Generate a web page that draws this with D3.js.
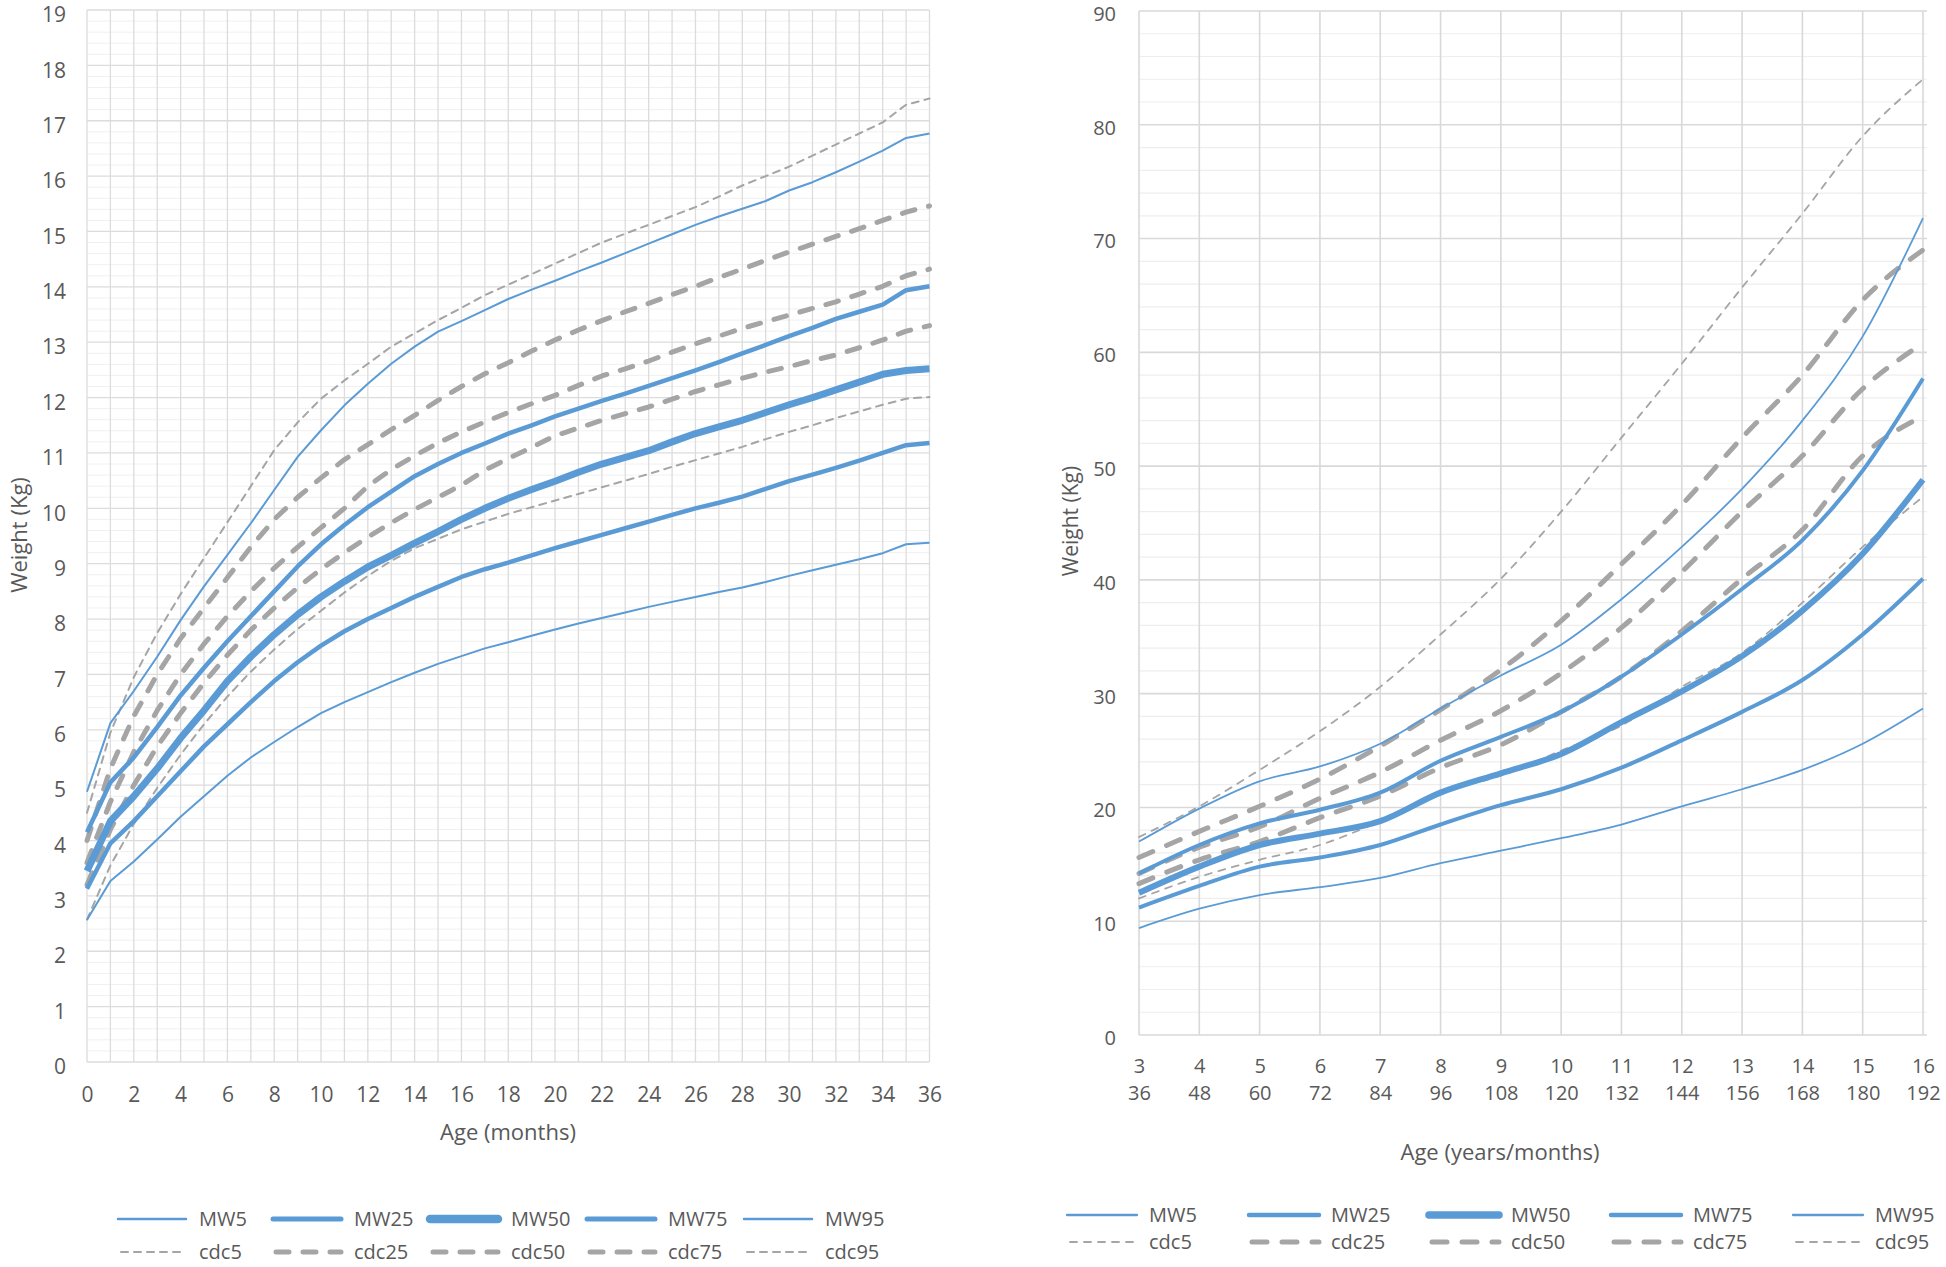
<!DOCTYPE html>
<html><head><meta charset="utf-8">
<script src="https://cdn.jsdelivr.net/npm/d3@7"></script>
<style>
body{margin:0;background:#fff;}
text{font-family:"Open Sans","Noto Sans",sans-serif;fill:#595959;}
</style>
</head><body>
<svg id="c" width="1946" height="1267"></svg>
<script>
// ---------- Left chart: 0-36 months ----------
const monthsL = [0,1,2,3,4,5,6,7,8,9,10,11,12,13,14,15,16,17,18,19,20,21,22,23,24,25,26,27,28,29,30,31,32,33,34,35,36];
const MW5_L  = [2.57,3.27,3.62,4.02,4.43,4.8,5.17,5.5,5.78,6.05,6.3,6.5,6.68,6.86,7.03,7.19,7.33,7.47,7.58,7.7,7.81,7.92,8.02,8.12,8.22,8.31,8.4,8.49,8.57,8.67,8.78,8.88,8.98,9.08,9.19,9.35,9.38];
const MW25_L = [3.13,3.95,4.35,4.8,5.25,5.7,6.1,6.5,6.88,7.22,7.52,7.78,8.0,8.2,8.4,8.58,8.76,8.9,9.02,9.15,9.28,9.4,9.52,9.64,9.76,9.88,10.0,10.1,10.21,10.35,10.49,10.61,10.73,10.86,11.0,11.14,11.18];
const MW50_L = [3.45,4.35,4.8,5.3,5.85,6.35,6.88,7.32,7.72,8.08,8.4,8.68,8.94,9.15,9.37,9.58,9.8,10.0,10.18,10.34,10.49,10.65,10.8,10.92,11.04,11.2,11.35,11.47,11.59,11.73,11.87,12.0,12.14,12.28,12.42,12.49,12.52];
const MW75_L = [4.15,5.05,5.5,6.05,6.62,7.12,7.6,8.05,8.5,8.95,9.35,9.7,10.02,10.3,10.58,10.8,11.0,11.17,11.35,11.5,11.66,11.8,11.94,12.07,12.21,12.35,12.49,12.64,12.8,12.95,13.11,13.26,13.42,13.55,13.68,13.94,14.01];
const MW95_L = [4.88,6.12,6.7,7.32,7.98,8.59,9.16,9.73,10.33,10.93,11.41,11.86,12.25,12.61,12.92,13.19,13.38,13.58,13.78,13.95,14.11,14.28,14.44,14.61,14.78,14.95,15.12,15.27,15.41,15.55,15.74,15.89,16.07,16.26,16.46,16.69,16.77];
const cdc5_L  = [2.57,3.55,4.3,4.95,5.55,6.1,6.6,7.05,7.45,7.82,8.15,8.48,8.78,9.05,9.28,9.45,9.62,9.76,9.9,10.02,10.14,10.26,10.38,10.5,10.62,10.75,10.87,10.99,11.11,11.25,11.38,11.5,11.63,11.75,11.87,11.98,12.01];
const cdc25_L = [3.2,4.2,5.0,5.7,6.3,6.85,7.35,7.8,8.2,8.57,8.9,9.2,9.48,9.74,9.98,10.2,10.42,10.69,10.9,11.1,11.31,11.45,11.59,11.71,11.83,11.97,12.11,12.23,12.35,12.46,12.56,12.67,12.77,12.9,13.04,13.2,13.3];
const cdc50_L = [3.6,4.7,5.6,6.35,7.0,7.55,8.05,8.5,8.92,9.3,9.65,10.0,10.4,10.7,10.95,11.18,11.38,11.56,11.73,11.89,12.04,12.22,12.39,12.52,12.66,12.82,12.97,13.11,13.25,13.37,13.49,13.61,13.73,13.87,14.01,14.2,14.32];
const cdc75_L = [4.0,5.3,6.25,7.0,7.65,8.2,8.75,9.3,9.8,10.2,10.55,10.88,11.15,11.42,11.68,11.95,12.2,12.43,12.63,12.84,13.04,13.22,13.39,13.55,13.7,13.86,14.01,14.17,14.32,14.48,14.63,14.77,14.91,15.05,15.2,15.35,15.46];
const cdc95_L = [4.5,5.95,6.95,7.75,8.45,9.1,9.75,10.4,11.05,11.55,11.98,12.31,12.61,12.92,13.16,13.4,13.62,13.85,14.04,14.23,14.42,14.61,14.8,14.96,15.12,15.28,15.44,15.63,15.83,16.0,16.17,16.37,16.57,16.77,16.97,17.29,17.4];
const yTicksL = [0,1,2,3,4,5,6,7,8,9,10,11,12,13,14,15,16,17,18,19];
const xTicksL = [0,2,4,6,8,10,12,14,16,18,20,22,24,26,28,30,32,34,36];

// ---------- Right chart: 3-16 years ----------
const yearsR  = [3,4,5,6,7,8,9,10,11,12,13,14,15,16];
const monthsR = [36,48,60,72,84,96,108,120,132,144,156,168,180,192];
const MW5_R  = [9.4,11.1,12.3,13.0,13.8,15.1,16.2,17.3,18.5,20.1,21.6,23.3,25.6,28.7];
const MW25_R = [11.2,13.1,14.8,15.6,16.7,18.5,20.2,21.6,23.5,25.9,28.4,31.2,35.2,40.1];
const MW50_R = [12.5,14.8,16.7,17.7,18.8,21.3,23.0,24.7,27.5,30.2,33.3,37.3,42.3,48.8];
const MW75_R = [14.2,16.7,18.6,19.8,21.3,24.1,26.2,28.4,31.5,35.2,39.2,43.5,49.6,57.7];
const MW95_R = [17.0,19.9,22.3,23.6,25.6,28.7,31.6,34.3,38.3,42.9,48.0,54.0,61.4,71.8];
const cdc5_R  = [12.0,13.9,15.4,16.7,18.8,21.3,22.8,25.0,27.2,30.6,33.6,38.0,42.9,47.3];
const cdc25_R = [13.3,15.4,17.0,19.1,21.0,23.5,25.5,28.4,31.5,35.5,40.1,44.4,50.9,54.4];
const cdc50_R = [14.2,16.5,18.3,20.8,23.1,25.9,28.5,31.8,35.8,40.7,46.0,50.9,56.8,60.8];
const cdc75_R = [15.6,17.9,20.1,22.5,25.4,28.6,32.1,36.4,41.4,46.6,52.5,58.0,64.6,69.0];
const cdc95_R = [17.4,20.1,23.3,26.7,30.6,35.2,40.1,46.0,52.5,59.0,65.7,72.2,79.0,84.0];
const yTicksR = [0,10,20,30,40,50,60,70,80,90];

const seriesNames = ["MW5","MW25","MW50","MW75","MW95","cdc5","cdc25","cdc50","cdc75","cdc95"];

// ---------- styles ----------
const BLUE = "#5b9bd5", GREY = "#a5a5a5";
const styleL = {
  MW5:{c:BLUE,w:2,d:null}, MW25:{c:BLUE,w:4.5,d:null}, MW50:{c:BLUE,w:7,d:null},
  MW75:{c:BLUE,w:4.5,d:null}, MW95:{c:BLUE,w:2,d:null},
  cdc5:{c:GREY,w:2,d:"7 6"}, cdc25:{c:GREY,w:5,d:"13 14"}, cdc50:{c:GREY,w:5,d:"13 14"},
  cdc75:{c:GREY,w:5,d:"13 14"}, cdc95:{c:GREY,w:2,d:"7 6"}
};
const styleR = {
  MW5:{c:BLUE,w:1.8,d:null}, MW25:{c:BLUE,w:4,d:null}, MW50:{c:BLUE,w:6,d:null},
  MW75:{c:BLUE,w:4,d:null}, MW95:{c:BLUE,w:1.8,d:null},
  cdc5:{c:GREY,w:1.8,d:"7 7"}, cdc25:{c:GREY,w:5,d:"15 15"}, cdc50:{c:GREY,w:5,d:"15 15"},
  cdc75:{c:GREY,w:5,d:"15 15"}, cdc95:{c:GREY,w:1.8,d:"7 7"}
};

const svg = d3.select("#c");
const drawOrder = ["cdc5","cdc25","cdc50","cdc75","cdc95","MW5","MW25","MW50","MW75","MW95"];

function drawLines(g, x, y, xs, dataMap, style, curve){
  const line = d3.line().x((d,i)=>x(xs[i])).y(d=>y(d)).curve(curve);
  drawOrder.forEach(n=>{
    const s = style[n];
    g.append("path").datum(dataMap[n]).attr("d", line)
      .attr("fill","none").attr("stroke",s.c).attr("stroke-width",s.w)
      .attr("stroke-dasharray", s.d).attr("stroke-linecap", s.d ? "round" : "butt")
      .attr("stroke-linejoin","round");
  });
}

function drawLegend(g, x0s, y1, y2, len, textOff, style){
  const top = ["MW5","MW25","MW50","MW75","MW95"], bot = ["cdc5","cdc25","cdc50","cdc75","cdc95"];
  [[top,y1],[bot,y2]].forEach(([names,yy])=>{
    names.forEach((n,i)=>{
      const s = style[n];
      const lw = s.d ? s.w : (n==="MW50" ? s.w+1.5 : s.w+0.5);
      g.append("line").attr("x1",x0s[i]+(s.d?3:0)).attr("x2",x0s[i]+len).attr("y1",yy).attr("y2",yy)
        .attr("stroke",s.c).attr("stroke-width",lw)
        .attr("stroke-dasharray",s.d).attr("stroke-linecap","round");
      g.append("text").attr("x",x0s[i]+textOff).attr("y",yy).attr("dy","0.35em")
        .style("font-size","20px").text(n);
    });
  });
}

// ================= LEFT =================
{
  const x = d3.scaleLinear().domain([0,36]).range([87,929.5]);
  const y = d3.scaleLinear().domain([0,19]).range([1062,10]);
  const g = svg.append("g");
  const minor = d3.range(0,95).map(i=>i*0.2).filter(v=>Math.abs(v-Math.round(v))>1e-6);
  g.selectAll(".mh").data(minor).join("line").attr("x1",x(0)).attr("x2",x(36))
    .attr("y1",d=>y(d)).attr("y2",d=>y(d)).attr("stroke","#f0f0f0").attr("stroke-width",1);
  g.selectAll(".vg").data(monthsL).join("line").attr("x1",d=>x(d)).attr("x2",d=>x(d))
    .attr("y1",y(0)).attr("y2",y(19)).attr("stroke","#dcdcdc").attr("stroke-width",1.3);
  g.selectAll(".hg").data(yTicksL).join("line").attr("x1",x(0)).attr("x2",x(36))
    .attr("y1",d=>y(d)).attr("y2",d=>y(d)).attr("stroke","#dcdcdc").attr("stroke-width",1.3);

  const dm = {MW5:MW5_L,MW25:MW25_L,MW50:MW50_L,MW75:MW75_L,MW95:MW95_L,cdc5:cdc5_L,cdc25:cdc25_L,cdc50:cdc50_L,cdc75:cdc75_L,cdc95:cdc95_L};
  drawLines(g, x, y, monthsL, dm, styleL, d3.curveLinear);

  const ya = g.append("g").attr("transform","translate(66,5)")
    .call(d3.axisLeft(y).tickValues(yTicksL).tickSize(0).tickPadding(0).tickFormat(d3.format("d")));
  ya.select(".domain").remove();
  ya.selectAll("text").style("font-size","21px").style("font-family","'Open Sans',sans-serif").attr("fill","#595959");
  const xa = g.append("g").attr("transform","translate(0,1087)")
    .call(d3.axisBottom(x).tickValues(xTicksL).tickSize(0).tickPadding(0).tickFormat(d3.format("d")));
  xa.select(".domain").remove();
  xa.selectAll("text").style("font-size","21px").style("font-family","'Open Sans',sans-serif").attr("fill","#595959");

  g.append("text").attr("x",508).attr("y",1132).attr("dy","0.35em").attr("text-anchor","middle")
    .style("font-size","22px").text("Age (months)");
  g.append("text").attr("transform","translate(19,535) rotate(-90)").attr("dy","0.35em").attr("text-anchor","middle")
    .style("font-size","22px").text("Weight (Kg)");

  drawLegend(g, [118,273,430,587,744], 1219, 1252, 68, 81, styleL);
}

// ================= RIGHT =================
{
  const x = d3.scaleLinear().domain([3,16]).range([1139,1923]);
  const y = d3.scaleLinear().domain([0,90]).range([1035,11]);
  const g = svg.append("g");
  const minor = d3.range(0,46).map(i=>i*2).filter(v=>v%10!==0);
  g.selectAll(".mh").data(minor).join("line").attr("x1",x(3)).attr("x2",1927)
    .attr("y1",d=>y(d)).attr("y2",d=>y(d)).attr("stroke","#eeeeee").attr("stroke-width",1.2);
  g.selectAll(".vg").data(yearsR).join("line").attr("x1",d=>x(d)).attr("x2",d=>x(d))
    .attr("y1",y(0)).attr("y2",y(90)).attr("stroke","#d9d9d9").attr("stroke-width",1.6);
  g.selectAll(".hg").data(yTicksR).join("line").attr("x1",x(3)).attr("x2",1927)
    .attr("y1",d=>y(d)).attr("y2",d=>y(d)).attr("stroke","#d9d9d9").attr("stroke-width",1.6);

  const dm = {MW5:MW5_R,MW25:MW25_R,MW50:MW50_R,MW75:MW75_R,MW95:MW95_R,cdc5:cdc5_R,cdc25:cdc25_R,cdc50:cdc50_R,cdc75:cdc75_R,cdc95:cdc95_R};
  drawLines(g, x, y, yearsR, dm, styleR, d3.curveMonotoneX);

  const ya = g.append("g").attr("transform","translate(1116,3)")
    .call(d3.axisLeft(y).tickValues(yTicksR).tickSize(0).tickPadding(0).tickFormat(d3.format("d")));
  ya.select(".domain").remove();
  ya.selectAll("text").style("font-size","20px").style("font-family","'Open Sans',sans-serif").attr("fill","#595959");
  const xa1 = g.append("g").attr("transform","translate(0,1059)")
    .call(d3.axisBottom(x).tickValues(yearsR).tickSize(0).tickPadding(0).tickFormat(d3.format("d")));
  xa1.select(".domain").remove();
  xa1.selectAll("text").style("font-size","20px").style("font-family","'Open Sans',sans-serif").attr("fill","#595959");
  const xa2 = g.append("g").attr("transform","translate(0,1086)")
    .call(d3.axisBottom(x).tickValues(yearsR).tickSize(0).tickPadding(0).tickFormat(d=>monthsR[yearsR.indexOf(d)]));
  xa2.select(".domain").remove();
  xa2.selectAll("text").style("font-size","20px").style("font-family","'Open Sans',sans-serif").attr("fill","#595959");

  g.append("text").attr("x",1500).attr("y",1152).attr("dy","0.35em").attr("text-anchor","middle")
    .style("font-size","22px").text("Age (years/months)");
  g.append("text").attr("transform","translate(1071,521) rotate(-90)").attr("dy","0.35em").attr("text-anchor","middle")
    .style("font-size","21px").text("Weight (Kg)");

  drawLegend(g, [1067,1249,1429,1611,1793], 1215, 1242, 70, 82, styleR);
}
</script>
</body></html>
